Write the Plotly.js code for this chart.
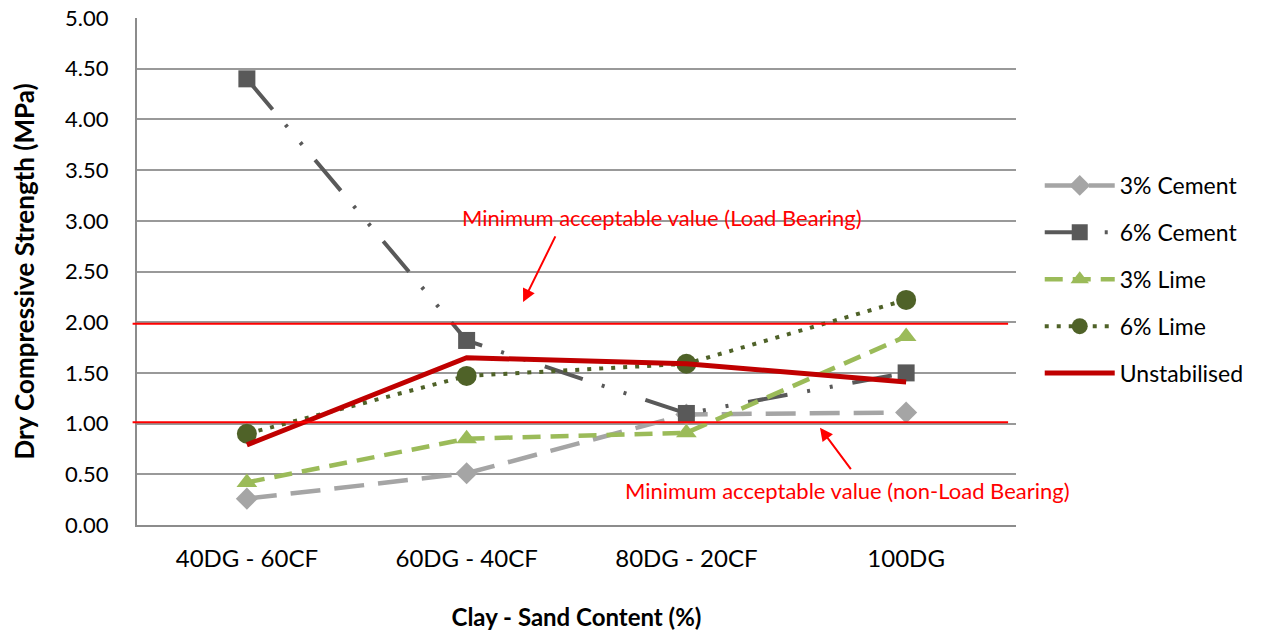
<!DOCTYPE html>
<html>
<head>
<meta charset="utf-8">
<script src="https://cdn.plot.ly/plotly-3.0.1.min.js"></script>
<style>html,body{margin:0;padding:0;background:#fff;}#chart{width:1268px;height:634px;}</style>
</head>
<body>
<div id="chart"></div>
<script>
const categories = ["40DG - 60CF", "60DG - 40CF", "80DG - 20CF", "100DG"];
const cement3 = [0.26, 0.51, 1.09, 1.11];
const cement6 = [4.40, 1.82, 1.10, 1.50];
const lime3 = [0.42, 0.85, 0.91, 1.86];
const lime6 = [0.90, 1.47, 1.59, 2.22];
const unstabilised = [0.79, 1.65, 1.59, 1.41];
const seriesNames = ["3% Cement", "6% Cement", "3% Lime", "6% Lime", "Unstabilised"];
const loadBearingMin = 2.0;
const nonLoadBearingMin = 1.0;

const mainFont = "Lato, 'Open Sans', sans-serif";
const traces = [
  {x: categories, y: cement3, name: seriesNames[0], legendgroup: "a", mode: "lines+markers",
   line: {color: "#A5A5A5", width: 4.5, dash: "30px,14px"},
   marker: {symbol: "diamond", size: 17, color: "#A5A5A5"}},
  {x: categories, y: cement6, name: seriesNames[1], legendgroup: "b", mode: "lines+markers",
   line: {color: "#595959", width: 4, dash: "40px,20px,3px,20px,3px,20px"},
   marker: {symbol: "square", size: 17, color: "#595959"}},
  {x: categories, y: lime3, name: seriesNames[2], legendgroup: "c", mode: "lines+markers",
   line: {color: "#9BBB59", width: 4.5, dash: "18px,10px"},
   marker: {symbol: "triangle-up", size: 18, color: "#9BBB59"}},
  {x: categories, y: lime6, name: seriesNames[3], legendgroup: "d", mode: "lines+markers",
   line: {color: "#4F6228", width: 4, dash: "4px,8px"},
   marker: {symbol: "circle", size: 20, color: "#4F6228"}},
  {x: categories, y: unstabilised, name: seriesNames[4], legendgroup: "e", mode: "lines",
   line: {color: "#C00000", width: 5}}
];

const layout = {
  width: 1268, height: 634,
  margin: {l: 137, r: 252, t: 18, b: 109},
  paper_bgcolor: "#fff", plot_bgcolor: "#fff",
  font: {family: mainFont, size: 21, color: "#000"},
  showlegend: true,
  legend: {x: 1.027, xanchor: "left", y: 0.712, yanchor: "top", tracegroupgap: 14,
           itemwidth: 70, font: {family: mainFont, size: 23, color: "#000"}, bgcolor: "rgba(0,0,0,0)"},
  xaxis: {
    type: "category", range: [-0.5, 3.5], showgrid: false, zeroline: false,
    showline: true, linecolor: "#8C8C8C", linewidth: 2,
    ticks: "outside", ticklen: 11, tickcolor: "rgba(0,0,0,0)",
    tickfont: {family: mainFont, size: 24, color: "#000"},
    title: {text: "<b>Clay - Sand Content (%)</b>", font: {family: mainFont, size: 24, color: "#000"}, standoff: 38}
  },
  yaxis: {
    range: [0, 5], dtick: 0.5, tick0: 0, tickformat: ".2f",
    showgrid: true, gridcolor: "#999999", gridwidth: 2, zeroline: false,
    showline: true, linecolor: "#8C8C8C", linewidth: 2,
    ticks: "outside", ticklen: 22, tickcolor: "rgba(0,0,0,0)",
    tickfont: {family: mainFont, size: 22, color: "#000"},
    title: {text: "<b>Dry Compressive Strength (MPa)</b>", font: {family: mainFont, size: 26, color: "#000"}, standoff: 23}
  },
  shapes: [
    {type: "line", xref: "paper", yref: "y", x0: -0.005, x1: 0.991, y0: loadBearingMin - 0.015, y1: loadBearingMin - 0.015,
     line: {color: "#FF0000", width: 2}},
    {type: "line", xref: "paper", yref: "y", x0: -0.005, x1: 0.991, y0: nonLoadBearingMin + 0.014, y1: nonLoadBearingMin + 0.014,
     line: {color: "#FF0000", width: 2}}
  ],
  annotations: [
    {x: 1.889, y: 3.03, xref: "x", yref: "y", text: "Minimum acceptable value (Load Bearing)", showarrow: false,
     font: {family: mainFont, size: 22, color: "#FF0000"}},
    {x: 2.735, y: 0.345, xref: "x", yref: "y", text: "Minimum acceptable value (non-Load Bearing)", showarrow: false,
     font: {family: mainFont, size: 22, color: "#FF0000"}},
    {x: 1.257, y: 2.20, xref: "x", yref: "y", text: "", showarrow: true, ax: 33, ay: -67,
     arrowhead: 2, arrowsize: 1.3, arrowwidth: 2, arrowcolor: "#FF0000", standoff: 0, startstandoff: 0},
    {x: 2.608, y: 0.96, xref: "x", yref: "y", text: "", showarrow: true, ax: 32, ay: 43,
     arrowhead: 2, arrowsize: 1.3, arrowwidth: 2, arrowcolor: "#FF0000", standoff: 0, startstandoff: 0}
  ]
};

Plotly.newPlot("chart", traces, layout, {displayModeBar: false, staticPlot: true});
</script>
</body>
</html>
